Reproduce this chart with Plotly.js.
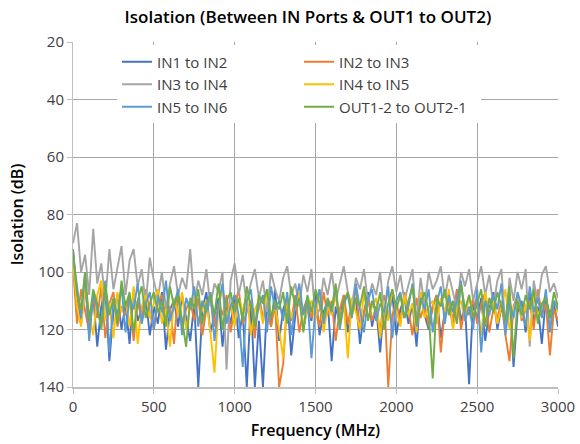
<!DOCTYPE html>
<html>
<head>
<meta charset="utf-8">
<script src="https://cdn.plot.ly/plotly-3.0.1.min.js"></script>
<style>html,body{margin:0;padding:0;background:#fff;}#chart{width:580px;height:444px;}</style>
</head>
<body>
<div id="chart"></div>
<script>
const freqMHz = [0,25,50,75,100,125,150,175,200,225,250,275,300,325,350,375,400,425,450,475,500,525,550,575,600,625,650,675,700,725,750,775,800,825,850,875,900,925,950,975,1000,1025,1050,1075,1100,1125,1150,1175,1200,1225,1250,1275,1300,1325,1350,1375,1400,1425,1450,1475,1500,1525,1550,1575,1600,1625,1650,1675,1700,1725,1750,1775,1800,1825,1850,1875,1900,1925,1950,1975,2000,2025,2050,2075,2100,2125,2150,2175,2200,2225,2250,2275,2300,2325,2350,2375,2400,2425,2450,2475,2500,2525,2550,2575,2600,2625,2650,2675,2700,2725,2750,2775,2800,2825,2850,2875,2900,2925,2950,2975,3000];

const seriesNames = ["IN1 to IN2","IN2 to IN3","IN3 to IN4","IN4 to IN5","IN5 to IN6","OUT1-2 to OUT2-1"];
const seriesColors = ["#4472C4","#ED7D31","#A5A5A5","#FFC000","#5B9BD5","#70AD47"];

const in1ToIn2 = [92,110,118,104,121,108,126,112,106,131,
 114,108,120,111,125,106,117,113,109,122,
 112,118,107,127,113,110,119,108,116,124,
 111,140,113,107,121,115,109,126,112,118,
 108,123,114,140,110,140,117,140,111,119,
 106,124,113,109,129,115,108,120,112,117,
 107,122,114,110,131,112,118,108,121,113,
 109,125,114,107,119,112,128,110,116,108,
 122,113,109,118,111,126,107,115,120,112,
 108,123,114,110,119,106,117,112,139,111,
 116,109,124,113,107,120,112,118,108,133,
 114,110,121,107,117,112,125,109,115,111,119];

const in2ToIn3 = [98,118,106,113,121,109,116,105,123,111,
 107,119,112,115,108,124,110,117,106,114,
 120,111,108,116,112,125,107,118,113,110,
 117,109,122,113,107,119,111,115,108,121,
 112,106,118,114,110,123,108,116,112,119,
 111,140,132,110,117,108,121,113,109,116,
 112,119,107,115,110,124,113,108,118,111,
 106,120,114,109,117,112,121,108,140,115,
 110,118,107,113,122,109,116,111,119,112,
 108,128,113,110,117,106,120,112,115,109,
 118,111,107,121,113,116,110,122,131,112,
 108,117,113,110,120,106,115,111,129,113,117];

const in3ToIn4 = [90,83,100,94,108,85,104,97,110,92,
 106,99,91,108,96,92,105,99,111,95,
 103,109,100,113,104,98,108,102,106,92,
 111,103,108,99,112,104,107,100,134,103,
 97,108,101,111,104,99,109,103,114,100,
 106,110,102,98,108,104,112,101,107,99,
 116,113,102,108,100,110,104,98,107,112,
 102,106,99,111,104,108,100,115,103,98,
 107,101,110,104,99,118,102,112,100,106,
 103,98,109,101,107,113,100,105,99,110,
 104,98,108,101,112,103,99,120,102,110,
 100,106,99,126,103,111,101,98,107,104,109];

const in4ToIn5 = [96,112,119,105,115,122,108,103,117,111,
 123,107,114,110,119,105,125,112,108,116,
 111,106,118,113,126,109,115,107,120,112,
 108,117,113,110,121,135,112,106,116,111,
 119,109,114,107,122,113,110,118,106,115,
 112,120,130,109,116,112,107,119,113,110,
 117,106,121,112,115,108,118,111,130,109,
 114,120,107,116,112,109,123,110,117,106,
 113,119,108,115,111,121,107,116,112,110,
 118,109,114,106,120,113,110,117,108,115,
 111,122,107,114,110,118,112,106,120,113,
 109,116,111,124,107,115,112,108,119,110,114];

const in5ToIn6 = [94,105,116,100,124,107,113,119,103,128,
 110,115,105,121,109,113,104,118,111,107,
 120,108,114,103,117,111,106,122,109,113,
 105,119,110,114,107,124,111,104,118,112,
 108,115,133,110,106,119,112,108,121,105,
 113,110,117,107,122,111,104,115,109,130,
 112,106,118,110,114,105,120,111,108,116,
 104,113,121,109,106,117,111,114,105,123,
 110,107,116,112,104,119,109,113,106,121,
 111,105,118,108,114,110,103,117,112,120,
 106,128,110,115,108,113,104,122,110,116,
 107,112,119,105,114,109,116,106,121,110,113];

const out12ToOut21 = [92,108,113,100,117,106,111,120,104,115,
 109,118,103,112,107,121,110,105,116,111,
 107,114,110,119,105,112,108,117,126,109,
 113,106,118,111,108,115,104,120,110,107,
 114,109,117,105,112,119,108,111,106,116,
 110,113,107,118,105,112,109,121,108,114,
 106,111,116,109,113,104,119,110,107,115,
 109,112,105,117,110,114,107,120,111,106,
 113,108,116,110,105,118,111,107,114,137,
 109,112,106,115,110,118,104,113,108,116,
 111,106,119,109,114,107,112,117,105,130,
 110,115,108,113,106,118,111,109,116,107,112];

const xTickVals = [0,500,1000,1500,2000,2500,3000];
const yTickVals = [20,40,60,80,100,120,140];

const allSeries = [in1ToIn2,in2ToIn3,in3ToIn4,in4ToIn5,in5ToIn6,out12ToOut21];

const FONT = "'Open Sans', 'Noto Sans', sans-serif";

const traces = allSeries.map((vals, k) => ({
  type: "scatter",
  mode: "lines",
  x: freqMHz,
  y: vals,
  name: seriesNames[k],
  line: {color: seriesColors[k], width: 1.9},
  hoverinfo: "x+y+name"
}));

const layout = {
  width: 580,
  height: 444,
  margin: {l: 73, r: 22, t: 42, b: 57},
  paper_bgcolor: "#ffffff",
  plot_bgcolor: "#ffffff",
  font: {family: FONT, size: 15, color: "#404040"},
  title: {
    text: "Isolation (Between IN Ports & OUT1 to OUT2)",
    font: {family: FONT, size: 17, color: "#000000", weight: 600},
    x: 0.531, xref: "container", xanchor: "center",
    y: 0.962, yref: "container", yanchor: "middle"
  },
  xaxis: {
    range: [0, 3000],
    tickvals: xTickVals,
    ticktext: xTickVals.map(String),
    showgrid: true, gridcolor: "#a6a6a6", gridwidth: 1,
    showline: true, linecolor: "#bfbfbf", linewidth: 2,
    ticks: "outside", ticklen: 5, tickcolor: "#bfbfbf",
    zeroline: false,
    tickfont: {family: FONT, size: 15, color: "#404040"},
    title: {text: "Frequency (MHz)", font: {family: FONT, size: 16, color: "#000000", weight: 600}, standoff: 10}
  },
  yaxis: {
    range: [140, 20],
    tickvals: yTickVals,
    ticktext: yTickVals.map(String),
    showgrid: true, gridcolor: "#a6a6a6", gridwidth: 1,
    showline: true, linecolor: "#bfbfbf", linewidth: 1,
    ticks: "outside", ticklen: 5, tickcolor: "#bfbfbf",
    zeroline: false,
    tickfont: {family: FONT, size: 15, color: "#404040"},
    title: {text: "Isolation (dB)", font: {family: FONT, size: 16, color: "#000000", weight: 600}, standoff: 10}
  },
  showlegend: true,
  legend: {
    orientation: "h",
    x: 0.0907, xanchor: "left",
    y: 0.99, yanchor: "top",
    bgcolor: "#ffffff",
    borderwidth: 0,
    entrywidth: 137, entrywidthmode: "pixels",
    itemwidth: 30,
    font: {family: FONT, size: 15, color: "#404040"}
  }
};

Plotly.newPlot("chart", traces, layout, {displayModeBar: false, staticPlot: true});
</script>
</body>
</html>
